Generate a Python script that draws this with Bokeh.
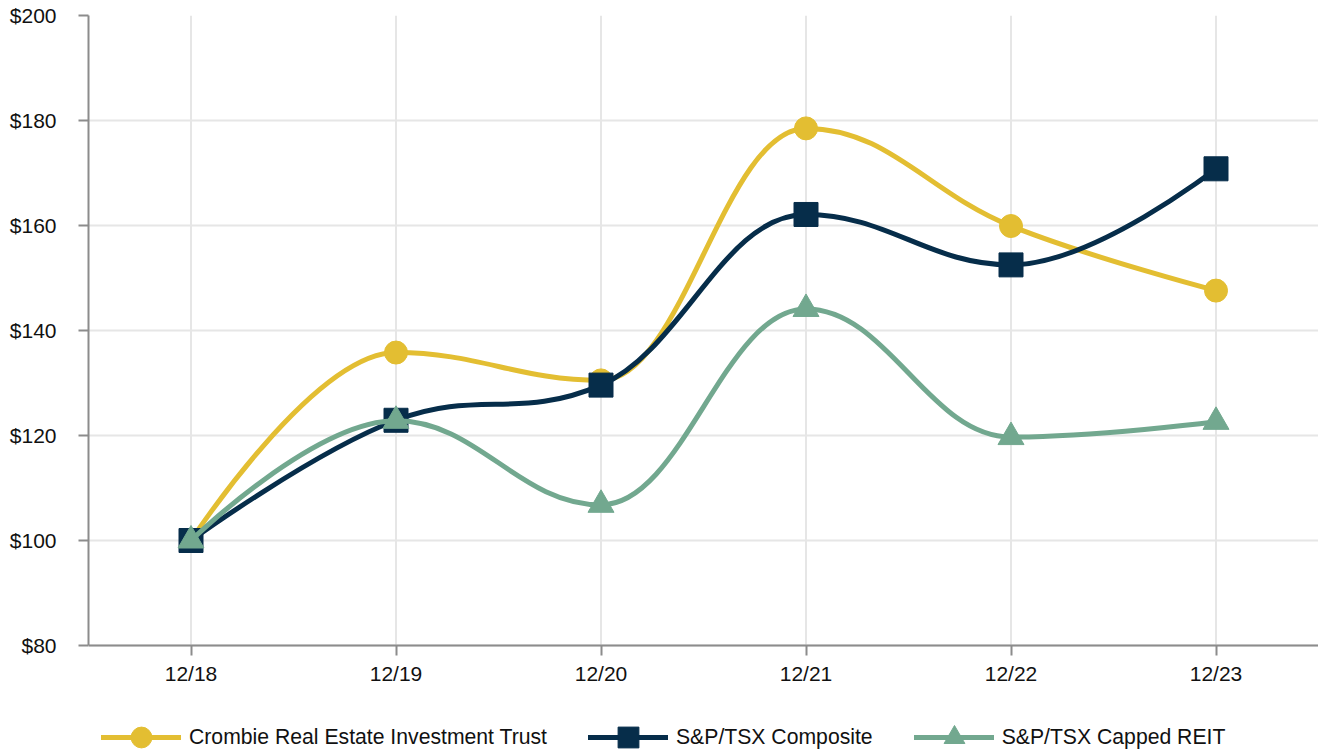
from bokeh.plotting import figure
from bokeh.models import (ColumnDataSource, FixedTicker, PrintfTickFormatter,
                          Legend, LegendItem, Range1d)
from bokeh.embed import file_html
from bokeh.resources import INLINE

# ---- data ----
categories = ["12/18", "12/19", "12/20", "12/21", "12/22", "12/23"]
crombie = [100.0, 135.8, 130.5, 178.5, 159.9, 147.6]
composite = [100.0, 122.9, 129.6, 162.1, 152.5, 170.8]
reit = [100.0, 122.8, 106.8, 144.1, 119.7, 122.6]
y_ticks = [80, 100, 120, 140, 160, 180, 200]

series_names = ["Crombie Real Estate Investment Trust", "S&P/TSX Composite", "S&P/TSX Capped REIT"]
series_values = [crombie, composite, reit]
series_colors = ["#E3BE32", "#062D4A", "#72A88F"]
series_markers = ["circle", "square", "triangle"]
marker_sizes = [23, 24, 26]

FONT = "Liberation Sans"
TEXT = "#111111"
GRID = "#e6e6e6"
AXIS = "#8c8c8c"

# extra room below the value axis (in value units) that holds the legend
Y_BELOW = 20


def spline_source(ys, smoothing=1.5):
    """Smooth-curve control points (same scheme as a spline line renderer)."""
    n = len(ys)
    xs = list(range(n))
    lc, rc = [], []
    d = smoothing + 1
    for i in range(n):
        px, py = xs[i], ys[i]
        if 0 < i < n - 1:
            lx, ly = xs[i - 1], ys[i - 1]
            nx, ny = xs[i + 1], ys[i + 1]
            lcx = (smoothing * px + lx) / d
            lcy = (smoothing * py + ly) / d
            rcx = (smoothing * px + nx) / d
            rcy = (smoothing * py + ny) / d
            corr = ((rcy - lcy) * (rcx - px)) / (rcx - lcx) + py - rcy
            lcy += corr
            rcy += corr
            if lcy > ly and lcy > py:
                lcy = max(ly, py); rcy = 2 * py - lcy
            elif lcy < ly and lcy < py:
                lcy = min(ly, py); rcy = 2 * py - lcy
            if rcy > ny and rcy > py:
                rcy = max(ny, py); lcy = 2 * py - rcy
            elif rcy < ny and rcy < py:
                rcy = min(ny, py); lcy = 2 * py - rcy
        else:
            lcx, lcy, rcx, rcy = px, py, px, py
        lc.append((lcx, lcy))
        rc.append((rcx, rcy))
    data = dict(x0=[], y0=[], x1=[], y1=[], cx0=[], cy0=[], cx1=[], cy1=[])
    for i in range(n - 1):
        data["x0"].append(xs[i]); data["y0"].append(ys[i])
        data["x1"].append(xs[i + 1]); data["y1"].append(ys[i + 1])
        data["cx0"].append(rc[i][0]); data["cy0"].append(rc[i][1])
        data["cx1"].append(lc[i + 1][0]); data["cy1"].append(lc[i + 1][1])
    return ColumnDataSource(data)


ymin, ymax = y_ticks[0], y_ticks[-1]
p = figure(width=1318, height=750, x_range=Range1d(-0.5, len(categories) - 0.5),
           y_range=Range1d(ymin - Y_BELOW, ymax), output_backend="svg", toolbar_location=None,
           min_border_left=88, min_border_right=0, min_border_top=15, min_border_bottom=0)
p.outline_line_color = None
p.background_fill_color = "white"
p.border_fill_color = "white"

# axes
p.xaxis.ticker = FixedTicker(ticks=list(range(len(categories))))
p.xaxis.major_label_overrides = {i: c for i, c in enumerate(categories)}
p.xaxis.fixed_location = ymin
p.yaxis.ticker = FixedTicker(ticks=y_ticks)
p.yaxis.formatter = PrintfTickFormatter(format="$%d")
p.yaxis.bounds = (ymin, ymax)
for ax in (p.xaxis, p.yaxis):
    ax.axis_line_color = AXIS
    ax.axis_line_width = 2
    ax.major_tick_line_color = AXIS
    ax.major_tick_line_width = 2
    ax.major_tick_out = 10
    ax.major_tick_in = 0
    ax.minor_tick_line_color = None
    ax.major_label_text_font = FONT
    ax.major_label_text_font_size = "21px"
    ax.major_label_text_color = TEXT
p.xaxis.major_label_standoff = 6
p.yaxis.major_label_standoff = 22

p.ygrid.grid_line_color = GRID
p.ygrid.grid_line_width = 2
p.xgrid.visible = False
# vertical grid lines limited to the value range
n = len(categories)
p.segment(x0=list(range(n)), y0=[ymin] * n, x1=list(range(n)), y1=[ymax] * n,
          line_color=GRID, line_width=2)

items = []
for name, vals, col, mk, ms in zip(series_names, series_values, series_colors,
                                   series_markers, marker_sizes):
    src = spline_source(vals)
    bz = p.bezier(x0="x0", y0="y0", x1="x1", y1="y1", cx0="cx0", cy0="cy0",
                  cx1="cx1", cy1="cy1", source=src, line_color=col, line_width=5,
                  line_cap="round", line_join="round")
    pts = ColumnDataSource(dict(x=list(range(len(vals))), y=vals))
    sc = p.scatter(x="x", y="y", source=pts, marker=mk, size=ms, fill_color=col,
                   line_color=col, line_width=1)
    items.append(LegendItem(label=name, renderers=[bz, sc]))

legend = Legend(items=items, orientation="horizontal", location=(13, -13),
                glyph_width=80, glyph_height=52, label_standoff=8, spacing=41,
                padding=0, margin=0, background_fill_alpha=0, border_line_color=None,
                label_text_font=FONT, label_text_font_size="21.2px", label_text_color=TEXT)
p.add_layout(legend, "center")

open("out.html", "w").write(file_html(p, INLINE))
